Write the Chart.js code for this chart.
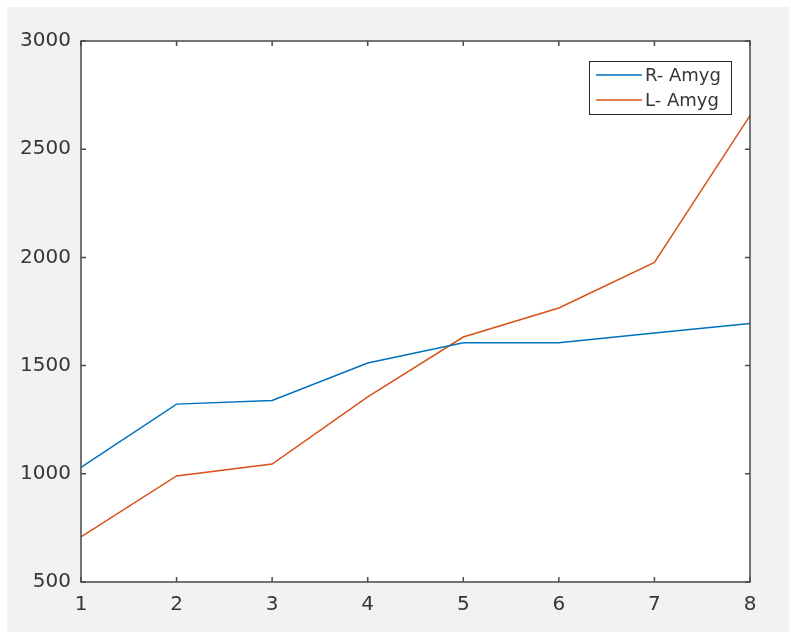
<!DOCTYPE html>
<html>
<head>
<meta charset="utf-8">
<script src="https://cdn.jsdelivr.net/npm/chart.js@4/dist/chart.umd.min.js"></script>
<style>
  html, body { margin: 0; padding: 0; background: #ffffff; }
  #wrap { width: 791px; height: 633px; position: relative; }
</style>
</head>
<body>
<div id="wrap"><canvas id="c" width="791" height="633"></canvas></div>
<script>
// x positions (scan index) and the two amygdala series
const categories = ['1', '2', '3', '4', '5', '6', '7', '8'];
const rAmyg = [1030, 1322, 1339, 1512, 1606, 1606, 1651, 1694];
const lAmyg = [708, 990, 1045, 1355, 1632, 1766, 1977, 2655];
const seriesNames = ['R- Amyg', 'L- Amyg'];
const yTicks = [500, 1000, 1500, 2000, 2500, 3000];

const AXIS_COLOR = '#4a4a4a';
const TEXT_COLOR = '#363636';
const FONT = 'DejaVu Sans';

// Figure background, white axes area
const backgroundPlugin = {
  id: 'figureBackground',
  beforeDraw(chart) {
    const { ctx, chartArea: a } = chart;
    ctx.save();
    ctx.fillStyle = '#ffffff';
    ctx.fillRect(0, 0, chart.width, chart.height);
    ctx.fillStyle = '#f2f2f2';
    ctx.fillRect(7, 7, 782, 625);
    ctx.fillStyle = '#ffffff';
    ctx.fillRect(a.left, a.top, a.right - a.left, a.bottom - a.top);
    ctx.restore();
  }
};

// Box around the axes with inward ticks on all four sides, plus a boxed legend
const boxPlugin = {
  id: 'axesBox',
  afterDatasetsDraw(chart) {
    const { ctx, chartArea: a, scales } = chart;
    const tl = 5;
    ctx.save();
    ctx.strokeStyle = AXIS_COLOR;
    ctx.lineWidth = 1.5;
    ctx.beginPath();
    ctx.rect(a.left, a.top, a.right - a.left, a.bottom - a.top);
    ctx.stroke();
    ctx.beginPath();
    categories.forEach((c, i) => {
      const x = scales.x.getPixelForValue(i);
      ctx.moveTo(x, a.bottom); ctx.lineTo(x, a.bottom - tl);
      ctx.moveTo(x, a.top); ctx.lineTo(x, a.top + tl);
    });
    yTicks.forEach(v => {
      const y = scales.y.getPixelForValue(v);
      ctx.moveTo(a.left, y); ctx.lineTo(a.left + tl, y);
      ctx.moveTo(a.right, y); ctx.lineTo(a.right - tl, y);
    });
    ctx.stroke();

    // legend
    const lx = 589, ly = 61, lw = 142, lh = 53;
    ctx.fillStyle = '#ffffff';
    ctx.fillRect(lx, ly, lw, lh);
    ctx.strokeStyle = '#262626';
    ctx.lineWidth = 1;
    ctx.strokeRect(lx + 0.5, ly + 0.5, lw, lh);
    ctx.font = '18px "' + FONT + '"';
    ctx.textBaseline = 'middle';
    ctx.textAlign = 'left';
    chart.data.datasets.forEach((ds, i) => {
      const y = ly + 14 + i * 25;
      ctx.strokeStyle = ds.borderColor;
      ctx.lineWidth = 1.5;
      ctx.beginPath();
      ctx.moveTo(596, y); ctx.lineTo(642, y);
      ctx.stroke();
      ctx.fillStyle = TEXT_COLOR;
      ctx.fillText(ds.label, 645, y + 1);
    });
    ctx.restore();
  }
};

new Chart(document.getElementById('c'), {
  type: 'line',
  data: {
    labels: categories,
    datasets: [
      { label: seriesNames[0], data: rAmyg, borderColor: '#0072BD', borderWidth: 1.5, pointRadius: 0, tension: 0, fill: false },
      { label: seriesNames[1], data: lAmyg, borderColor: '#D95319', borderWidth: 1.5, pointRadius: 0, tension: 0, fill: false }
    ]
  },
  options: {
    responsive: false,
    animation: false,
    events: [],
    layout: { padding: { left: 0, top: 41, right: 41, bottom: 0 } },
    plugins: { legend: { display: false }, tooltip: { enabled: false } },
    scales: {
      x: {
        type: 'category',
        offset: false,
        grid: { display: false, drawTicks: false },
        border: { display: false },
        ticks: { color: TEXT_COLOR, font: { family: FONT, size: 20 }, padding: 11, maxRotation: 0, autoSkip: false },
        afterFit(s) { s.height = 51; }
      },
      y: {
        min: 500,
        max: 3000,
        grid: { display: false, drawTicks: false },
        border: { display: false },
        afterBuildTicks(s) { s.ticks = yTicks.map(v => ({ value: v })); },
        ticks: { color: TEXT_COLOR, font: { family: FONT, size: 20 }, padding: 10, callback: v => String(v) },
        afterFit(s) { s.width = 81; }
      }
    }
  },
  plugins: [backgroundPlugin, boxPlugin]
});
</script>
</body>
</html>
